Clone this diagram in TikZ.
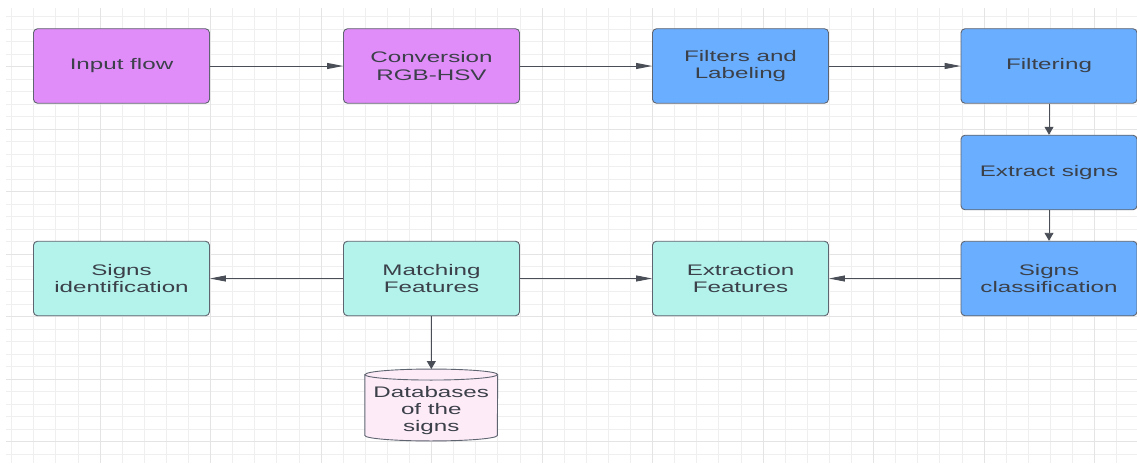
\documentclass[tikz,border=0pt]{standalone}
\usepackage{fontspec}
\newfontfamily\boxfont[FakeStretch=1.58]{Liberation Sans}
\usetikzlibrary{arrows.meta,calc}
\definecolor{purpc}{HTML}{E08CF9}
\definecolor{bluec}{HTML}{6AAFFF}
\definecolor{cyanc}{HTML}{B4F3EC}
\definecolor{pinkc}{HTML}{FDEBF8}
\definecolor{boxline}{HTML}{5E6470}
\definecolor{txtc}{HTML}{3B4049}
\definecolor{arrowc}{HTML}{4A4F57}
\definecolor{gridminor}{HTML}{EFEFEF}
\definecolor{gridmajor}{HTML}{E4E4E4}
\begin{document}
\begin{tikzpicture}[x=1pt,y=-1pt,
  box/.style={draw=boxline, line width=0.9pt, rounded corners=4pt,
    minimum width=176pt, minimum height=74.5pt, align=center, inner sep=0pt,
    text=txtc, font=\boxfont\fontsize{15.3}{17.5}\selectfont},
  purpbox/.style={box, fill=purpc},
  bluebox/.style={box, fill=bluec},
  cyanbox/.style={box, fill=cyanc},
  dbnode/.style={minimum width=132.5pt, minimum height=71.5pt, inner sep=0pt,
    align=center, text=txtc, font=\boxfont\fontsize{15.3}{17}\selectfont},
  dbshape/.style={draw=boxline, line width=0.9pt, fill=pinkc},
  harrow/.style={draw=arrowc, line width=0.9pt, -{Triangle[length=16pt,width=6pt]}},
  varrow/.style={draw=arrowc, line width=0.9pt, -{Triangle[length=8pt,width=9pt]}},
  gminor/.style={draw=gridminor, line width=1pt},
  gmajor/.style={draw=gridmajor, line width=1.1pt}]
\useasboundingbox[fill=white] (0,0) rectangle (1137,465);
% grid
\foreach \i in {0,...,51} {
  \draw[gminor] (11.7+22.1*\i,8) -- (11.7+22.1*\i,463);
}
\foreach \j in {1,...,36} {
  \draw[gminor] (6,4.2+12.5*\j) -- (1137,4.2+12.5*\j);
}
\foreach \i in {0,...,9} {
  \draw[gmajor] (100.1+110.5*\i,8) -- (100.1+110.5*\i,463);
}
\foreach \j in {0,...,6} {
  \draw[gmajor] (6,66.7+62.5*\j) -- (1137,66.7+62.5*\j);
}
% nodes
\node[purpbox] (inp) at (121.5,66) {Input flow};
\node[purpbox] (conv) at (431.5,66) {Conversion\\RGB-HSV};
\node[bluebox] (filt) at (740.5,66) {Filters and\\Labeling};
\node[bluebox] (filtering) at (1049,66) {Filtering};
\node[bluebox] (extr) at (1049,172.5) {Extract signs};
\node[bluebox] (cls) at (1049,278.5) {Signs\\classification};
\node[cyanbox] (ef) at (740.5,278.5) {Extraction\\Features};
\node[cyanbox] (mf) at (431.5,278.5) {Matching\\Features};
\node[cyanbox] (sid) at (121.5,278.5) {Signs\\identification};
% database cylinder
\node[dbnode] (db) at (431.25,405) {};
\filldraw[dbshape] ($(db.north west)+(0,5.5)$) -- ($(db.south west)+(0,-5.5)$)
  arc[start angle=180, end angle=360, x radius=66.25pt, y radius=5.5pt]
  -- ($(db.north east)+(0,5.5)$)
  arc[start angle=0, end angle=180, x radius=66.25pt, y radius=5.5pt] -- cycle;
\draw[dbshape, fill=none] ($(db.north west)+(0,5.5)$)
  arc[start angle=180, end angle=360, x radius=66.25pt, y radius=5.5pt];
\node[dbnode] (dbtext) at ($(db.center)+(0,6)$) {Databases\\of the\\signs};
% connectors
\draw[harrow] (inp) -- (conv);
\draw[harrow] (conv) -- (filt);
\draw[harrow] (filt) -- (filtering);
\draw[varrow] (filtering) -- (extr);
\draw[varrow] (extr) -- (cls);
\draw[harrow] (cls) -- (ef);
\draw[harrow] (mf) -- (ef);
\draw[harrow] (mf) -- (sid);
\draw[varrow] (mf) -- (db);
\end{tikzpicture}
\end{document}
